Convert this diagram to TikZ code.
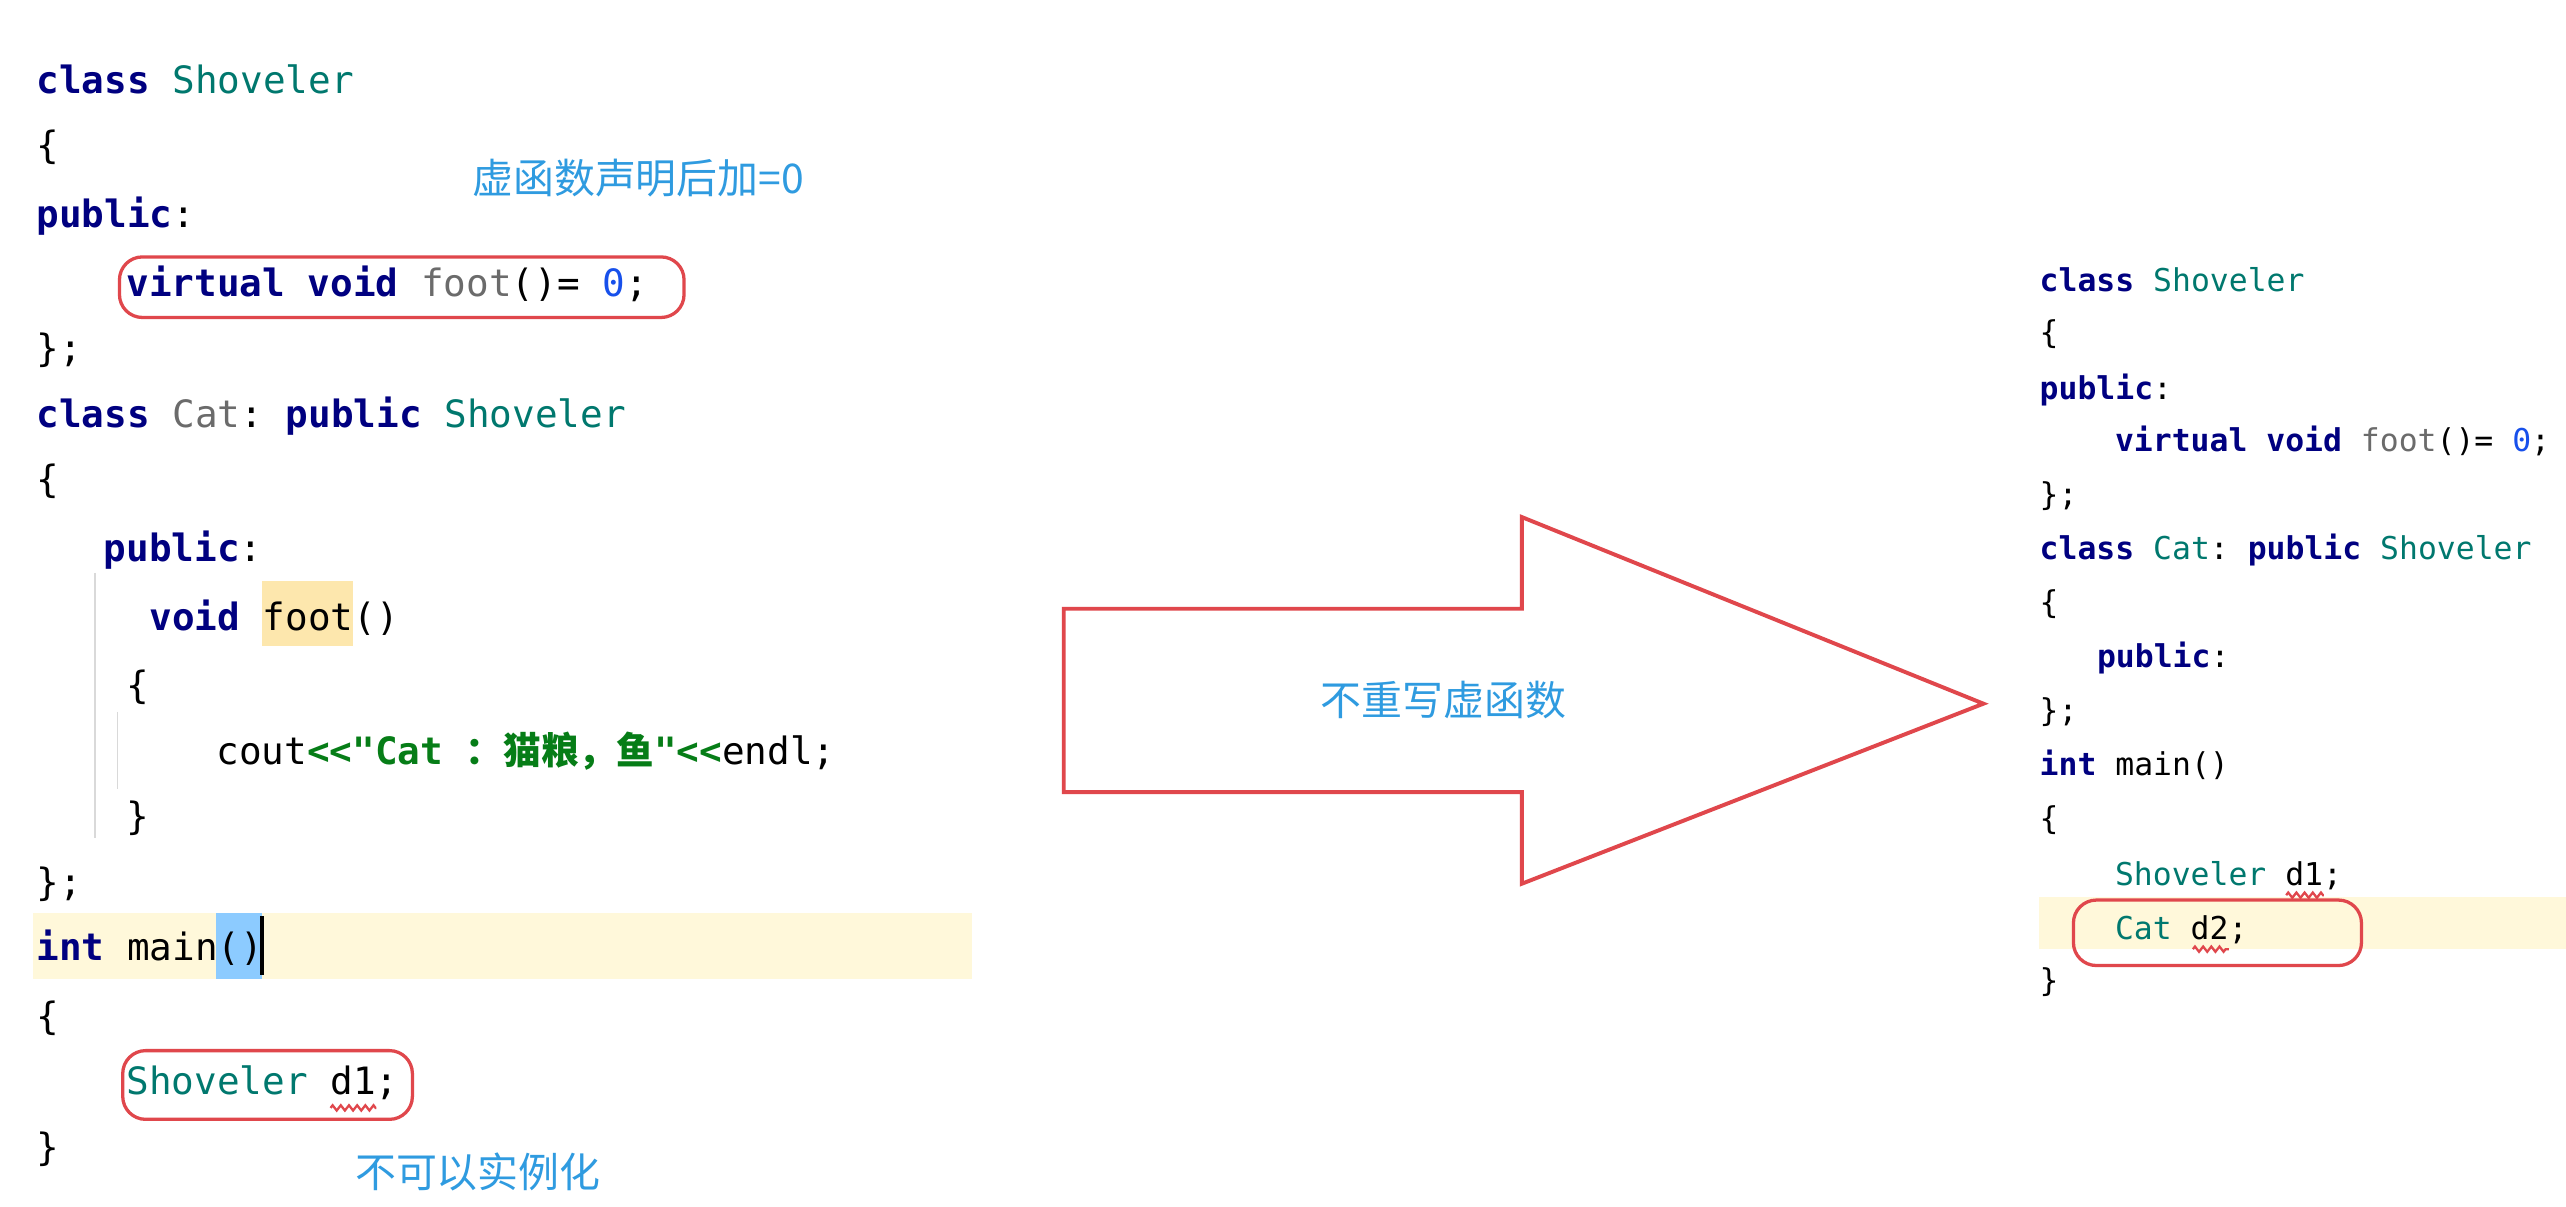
\documentclass[tikz,border=0pt]{standalone}
\usepackage{fontspec}
\usetikzlibrary{decorations.pathmorphing}
\setmonofont{DejaVu Sans Mono}
\newfontfamily\cjk{Noto Sans CJK SC}
\definecolor{kw}{HTML}{000080}
\definecolor{cls}{HTML}{00786E}
\definecolor{fn}{HTML}{6B6B6B}
\definecolor{num}{HTML}{1750EB}
\definecolor{str}{HTML}{067D17}
\definecolor{note}{HTML}{2F9BE0}
\definecolor{rd}{HTML}{E0474C}
\definecolor{hl}{HTML}{FFF8DA}
\newcommand{\kw}[1]{\textcolor{kw}{\bfseries #1}}
\newcommand{\cl}[1]{\textcolor{cls}{#1}}
\begin{document}
\begin{tikzpicture}[x=0.5pt,y=-0.5pt,
  L/.style={anchor=base west,inner sep=0pt,font=\ttfamily\fontsize{11.5}{12}\selectfont},
  R/.style={anchor=base west,inner sep=0pt,font=\ttfamily\fontsize{9.6}{10}\selectfont},
  note/.style={anchor=center,inner sep=0pt,text=note,font=\cjk\fontsize{12.5}{13}\selectfont},
  redbox/.style={draw=rd,line width=1pt,rounded corners=7pt},
  sq/.style={draw=rd,line width=0.7pt,decorate,decoration={zigzag,segment length=2.5pt,amplitude=0.8pt}}]
\useasboundingbox (0,0) rectangle (1568,737);
\fill[white] (0,0) rectangle (1568,737);
% highlights
\fill[hl] (20,558) rectangle (594,598);
\fill[hl] (1246,548) rectangle (1568,580);
\fill[yellow!45!orange!30] (160,355) rectangle (216,395);
\fill[blue!45!cyan!45] (132,558) rectangle (160,598);
\draw[black,line width=1.2pt] (160,560) -- (160,596);
\draw[gray!30] (58,350) -- (58,512);
\draw[gray!30] (72,435) -- (72,482);
% left code
\node[L] (l1) at (22,57) {\kw{class} \cl{Shoveler}};
\node[L] (l2) at (22,97) {\{};
\node[L] (l3) at (22,139) {\kw{public}:};
\node[L] (l4) at (77,181) {\kw{virtual} \kw{void} \textcolor{fn}{foot}()= \textcolor{num}{0};};
\node[L] (l5) at (22,221) {\};};
\node[L] (l6) at (22,261) {\kw{class} \textcolor{fn}{Cat}: \kw{public} \cl{Shoveler}};
\node[L] (l7) at (22,301) {\{};
\node[L] (l8) at (63,343) {\kw{public}:};
\node[L] (l9) at (91,385) {\kw{void} foot()};
\node[L] (l10) at (77,427) {\{};
\node[L] (l11) at (132,467) {cout\textcolor{str}{\bfseries<<"Cat {\cjk ：猫粮，鱼}"<<}endl;};
\node[L] (l12) at (77,507) {\}};
\node[L] (l13) at (22,547) {\};};
\node[L] (l14) at (22,587) {\kw{int} main()};
\node[L] (l15) at (22,629) {\{};
\node[L] (l16) at (77,669) {\cl{Shoveler} d1;};
\node[L] (l17) at (22,709) {\}};
\draw[sq] (202,677) -- (230,677);
\draw[redbox] (73,157) rectangle (418,194);
\draw[redbox] (75,642) rectangle (252,684);
\node[note] (n1) at (390,109) {虚函数声明后加=0};
\node[note] (n2) at (292,716) {不可以实例化};
% arrow
\draw[rd,line width=1.2pt,line join=miter] (650,372) -- (930,372) -- (930,316) -- (1212,430) -- (930,540) -- (930,484) -- (650,484) -- cycle;
\node[note] (n3) at (882,428) {不重写虚函数};
% right code
\node[R] (r1) at (1246,178) {\kw{class} \cl{Shoveler}};
\node[R] (r2) at (1246,210) {\{};
\node[R] (r3) at (1246,244) {\kw{public}:};
\node[R] (r4) at (1292,276) {\kw{virtual} \kw{void} \textcolor{fn}{foot}()= \textcolor{num}{0};};
\node[R] (r5) at (1246,309) {\};};
\node[R] (r6) at (1246,342) {\kw{class} \cl{Cat}: \kw{public} \cl{Shoveler}};
\node[R] (r7) at (1246,375) {\{};
\node[R] (r8) at (1281,408) {\kw{public}:};
\node[R] (r9) at (1246,441) {\};};
\node[R] (r10) at (1246,474) {\kw{int} main()};
\node[R] (r11) at (1246,507) {\{};
\node[R] (r12) at (1292,541) {\cl{Shoveler} d1;};
\node[R] (r13) at (1292,574) {\cl{Cat} d2;};
\node[R] (r14) at (1246,606) {\}};
\draw[sq] (1397,547) -- (1420,547);
\draw[sq] (1340,580) -- (1362,580);
\draw[redbox] (1267,550) rectangle (1443,590);
\end{tikzpicture}
\end{document}
